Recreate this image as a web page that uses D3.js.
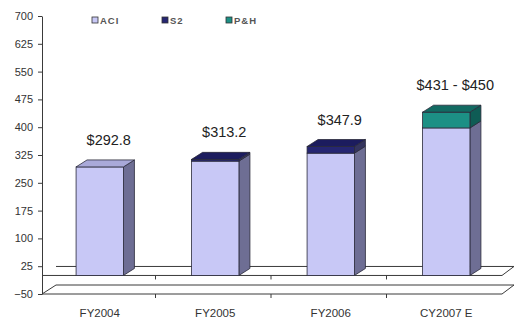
<!DOCTYPE html>
<html>
<head>
<meta charset="utf-8">
<script src="https://cdn.jsdelivr.net/npm/d3@7"></script>
<style>
  html, body { margin: 0; padding: 0; background: #fff; }
  svg { display: block; }
  text { font-family: Arial, "Liberation Sans", sans-serif; }
</style>
</head>
<body>
<svg id="chart" width="514" height="320"></svg>
<script>
// Revenue by year, stacked by business line ($M)
const categories = ["FY2004", "FY2005", "FY2006", "CY2007 E"];
const seriesNames = ["ACI", "S2", "P&H"];
const aciValues = [292.8, 308.5, 330.0, 398.0];
const s2Values  = [0, 4.7, 17.9, 0];
const phValues  = [0, 0, 0, 42.5];
const totalLabels = ["$292.8", "$313.2", "$347.9", "$431 - $450"];
const yTicks = [-50, 25, 100, 175, 250, 325, 400, 475, 550, 625, 700];

// face colours per series: front, side, top
const palette = {
  "ACI": { front: "#c8c8f6", side: "#6e6e94", top: "#a9a9d9" },
  "S2":  { front: "#262672", side: "#34345e", top: "#1c1c5e" },
  "P&H": { front: "#1c9085", side: "#0f5c55", top: "#126a62" }
};

const svg = d3.select("#chart");
const plotLeft = 42, plotRight = 504, plotTop = 16, plotBottom = 294;
const depthBar = { dx: 11, dy: -7 };
const depthFloor = { dx: 14, dy: -9 };

const y = d3.scaleLinear().domain([-50, 700]).range([plotBottom, plotTop]);
const x = d3.scaleBand().domain(categories).range([plotLeft, plotRight]).padding(0);
const barW = x.bandwidth() * 0.41;

const stackRows = categories.map((c, i) => ({
  cat: c, "ACI": aciValues[i], "S2": s2Values[i], "P&H": phValues[i]
}));
const stacked = d3.stack().keys(seriesNames)(stackRows);

// floor planes at the axis minimum and at zero
const stroke = "#3a3a3a";
function plane(v, withLeftEdge) {
  const yf = y(v), yb = y(v) + depthFloor.dy;
  const xr = plotRight - 2;
  const g = svg.append("g").attr("fill", "none").attr("stroke", stroke).attr("stroke-width", 1);
  g.append("line").attr("x1", plotLeft).attr("x2", xr).attr("y1", yf).attr("y2", yf);
  g.append("line").attr("x1", plotLeft + depthFloor.dx).attr("x2", xr + depthFloor.dx - 2)
    .attr("y1", yb).attr("y2", yb);
  g.append("line").attr("x1", xr).attr("y1", yf).attr("x2", xr + depthFloor.dx - 2).attr("y2", yb);
  if (withLeftEdge) {
    g.append("line").attr("x1", plotLeft).attr("y1", yf)
      .attr("x2", plotLeft + depthFloor.dx).attr("y2", yb);
  }
  // category boundary marks along the front edge
  categories.slice(1).forEach(c => {
    const bx = x(c) - 2;
    g.append("line").attr("x1", bx).attr("x2", bx).attr("y1", yf).attr("y2", yf + 4);
  });
}
plane(-50, true);
plane(0, false);

// y axis
const yAxis = d3.axisLeft(y).tickValues(yTicks).tickSize(4).tickSizeOuter(0).tickPadding(5);
const ga = svg.append("g").attr("transform", `translate(${plotLeft},0)`).call(yAxis);
ga.select(".domain").attr("stroke", stroke);
ga.selectAll(".tick line").attr("stroke", stroke);
ga.selectAll(".tick text").attr("font-size", 11).attr("fill", "#333")
  .attr("font-family", "Arial, 'Liberation Sans', sans-serif");

// 3D columns
const bars = svg.append("g");
categories.forEach((c, i) => {
  const x0 = x(c) + (x.bandwidth() - barW) / 2;
  const segs = stacked.map(s => ({ key: s.key, y0: s[i][0], y1: s[i][1] }))
                      .filter(s => s.y1 - s.y0 > 0);
  segs.forEach((s, k) => {
    const col = palette[s.key];
    const yt = y(s.y1), yb = y(s.y0);
    // side face
    bars.append("path")
      .attr("d", `M${x0 + barW},${yt} L${x0 + barW + depthBar.dx},${yt + depthBar.dy} ` +
                 `L${x0 + barW + depthBar.dx},${yb + depthBar.dy} L${x0 + barW},${yb} Z`)
      .attr("fill", col.side).attr("stroke", "#2a2a3a").attr("stroke-width", 0.8);
    // front face
    bars.append("rect").attr("x", x0).attr("y", yt).attr("width", barW).attr("height", yb - yt)
      .attr("fill", col.front).attr("stroke", "#2a2a3a").attr("stroke-width", 0.8);
    // top face on the highest segment
    if (k === segs.length - 1) {
      bars.append("path")
        .attr("d", `M${x0},${yt} L${x0 + depthBar.dx},${yt + depthBar.dy} ` +
                   `L${x0 + barW + depthBar.dx},${yt + depthBar.dy} L${x0 + barW},${yt} Z`)
        .attr("fill", col.top).attr("stroke", "#2a2a3a").attr("stroke-width", 0.8);
    }
  });
  // total label
  const total = segs[segs.length - 1].y1;
  svg.append("text")
    .attr("x", x(c) + x.bandwidth() / 2 + 9)
    .attr("y", y(total) - 22)
    .attr("text-anchor", "middle")
    .attr("font-size", 14.5)
    .attr("fill", "#222")
    .text(totalLabels[i]);
});

// category labels
svg.append("g").selectAll("text").data(categories).join("text")
  .attr("x", d => x(d) + x.bandwidth() / 2)
  .attr("y", 317)
  .attr("text-anchor", "middle")
  .attr("font-size", 11.5)
  .attr("fill", "#333")
  .text(d => d);

// legend
const legendX = [92, 162, 226];
const lg = svg.append("g");
seriesNames.forEach((n, i) => {
  lg.append("rect").attr("x", legendX[i]).attr("y", 17).attr("width", 6).attr("height", 6)
    .attr("fill", palette[n].front).attr("stroke", "#333").attr("stroke-width", 0.8);
  lg.append("text").attr("x", legendX[i] + 8).attr("y", 23.5)
    .attr("font-size", 9.5).attr("font-weight", "bold").attr("letter-spacing", 1)
    .attr("fill", "#555").text(n);
});
</script>
</body>
</html>
